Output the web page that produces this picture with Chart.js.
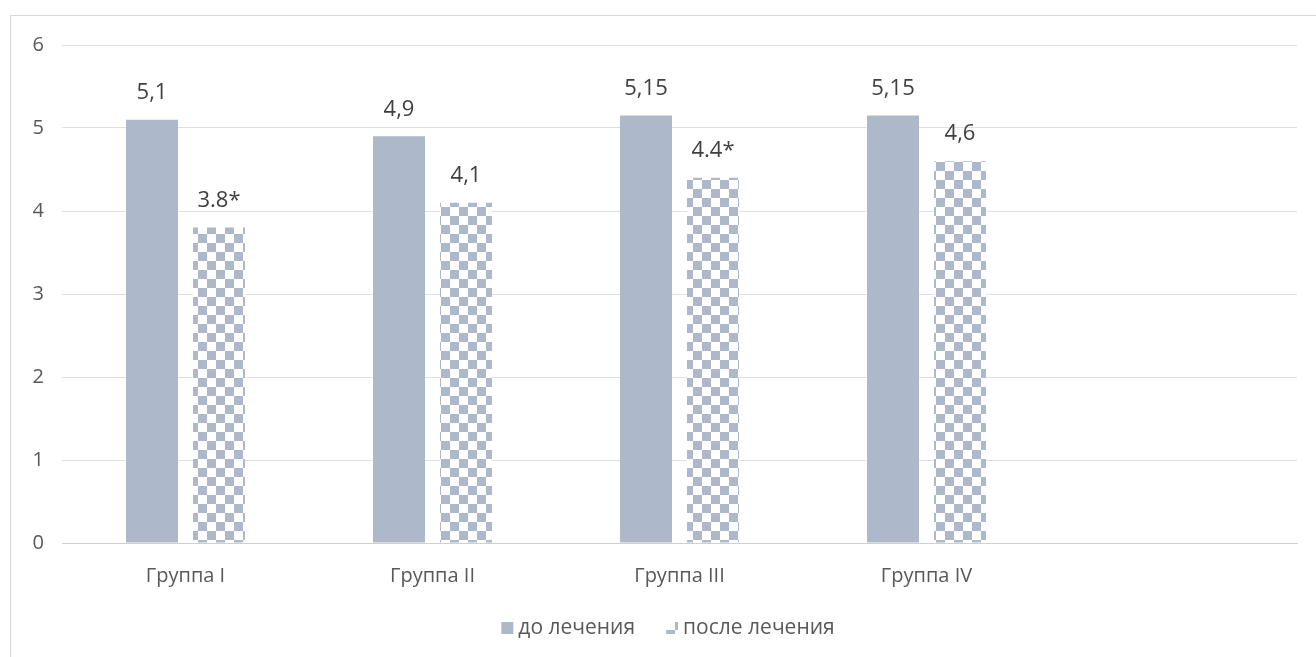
<!DOCTYPE html>
<html>
<head>
<meta charset="utf-8">
<script src="https://cdn.jsdelivr.net/npm/chart.js@4/dist/chart.umd.min.js"></script>
<style>
  html, body { margin: 0; padding: 0; background: #fff; overflow: hidden; }
  #wrap { position: relative; width: 1316px; height: 657px; }
  #frame { position: absolute; left: 10px; top: 15px; width: 1400px; height: 700px;
           border-left: 1px solid #d9d9d9; border-top: 1px solid #d9d9d9; box-sizing: border-box; }
  canvas { position: absolute; left: 0; top: 0; }
</style>
</head>
<body>
<div id="wrap">
  <div id="frame"></div>
  <canvas id="c" width="1316" height="657"></canvas>
</div>
<script>
const categories = ['Группа I', 'Группа II', 'Группа III', 'Группа IV', ''];
const seriesNames = ['до лечения', 'после лечения'];
const beforeValues = [5.1, 4.9, 5.15, 5.15, null];
const afterValues = [3.8, 4.1, 4.4, 4.6, null];
const beforeLabels = ['5,1', '4,9', '5,15', '5,15', ''];
const afterLabels = ['3.8*', '4,1', '4.4*', '4,6', ''];
const yMin = 0, yMax = 6, yStep = 1;

const FONT = '"Open Sans", "Noto Sans", sans-serif';
const TEXT = '#595959';
const BAR = '#adb9ca';

function makeChecker(size) {
  const c = document.createElement('canvas');
  c.width = size * 2; c.height = size * 2;
  const g = c.getContext('2d');
  g.fillStyle = '#ffffff'; g.fillRect(0, 0, size * 2, size * 2);
  g.fillStyle = BAR;
  g.fillRect(0, 0, size, size);
  g.fillRect(size, size, size, size);
  return g.createPattern(c, 'repeat');
}
const checker = makeChecker(9);

const valueLabels = [beforeLabels, afterLabels];

const labelPlugin = {
  id: 'valueLabels',
  afterDatasetsDraw(chart) {
    const ctx = chart.ctx;
    ctx.save();
    ctx.font = '22px ' + FONT;
    ctx.fillStyle = '#404040';
    ctx.textAlign = 'center';
    ctx.textBaseline = 'middle';
    chart.data.datasets.forEach((ds, i) => {
      const meta = chart.getDatasetMeta(i);
      meta.data.forEach((bar, j) => {
        const t = valueLabels[i][j];
        if (!t || ds.data[j] == null) return;
        ctx.fillText(t, bar.x, bar.y - 27);
      });
    });
    ctx.restore();
  }
};

const legendPlugin = {
  id: 'customLegend',
  afterDraw(chart) {
    const ctx = chart.ctx;
    ctx.save();
    ctx.font = '21px ' + FONT;
    ctx.textBaseline = 'middle';
    const box = 12, gapBox = 5, gapItem = 31;
    const items = chart.data.datasets.map(ds => ({ label: ds.label, fill: ds.backgroundColor }));
    let total = 0;
    items.forEach((it, k) => {
      total += box + gapBox + ctx.measureText(it.label).width;
      if (k < items.length - 1) total += gapItem;
    });
    let x = 668 - total / 2;
    const y = 628;
    items.forEach(it => {
      ctx.fillStyle = it.fill;
      ctx.fillRect(x, y - box / 2, box, box);
      x += box + gapBox;
      ctx.fillStyle = TEXT;
      ctx.fillText(it.label, x, y);
      x += ctx.measureText(it.label).width + gapItem;
    });
    ctx.restore();
  }
};

new Chart(document.getElementById('c'), {
  type: 'bar',
  data: {
    labels: categories,
    datasets: [
      { label: seriesNames[0], data: beforeValues, backgroundColor: BAR,
        categoryPercentage: 0.5425, barPercentage: 0.776 },
      { label: seriesNames[1], data: afterValues, backgroundColor: checker,
        categoryPercentage: 0.5425, barPercentage: 0.776 }
    ]
  },
  options: {
    responsive: false,
    animation: false,
    layout: { padding: { left: 10, right: 19, top: 45, bottom: 54 } },
    plugins: { legend: { display: false }, tooltip: { enabled: false } },
    scales: {
      x: {
        grid: { display: false },
        border: { display: true, color: '#d0d0d0', width: 1 },
        ticks: { color: TEXT, font: { family: FONT, size: 20 }, padding: 13 },
        afterFit(s) { s.height = 60; }
      },
      y: {
        min: yMin, max: yMax,
        grid: { color: '#e0e0e0', lineWidth: 1, drawTicks: false },
        border: { display: false },
        ticks: { stepSize: yStep, color: TEXT, font: { family: FONT, size: 20 }, padding: 18 },
        afterFit(s) { s.width = 52; }
      }
    }
  },
  plugins: [labelPlugin, legendPlugin]
});
</script>
</body>
</html>
